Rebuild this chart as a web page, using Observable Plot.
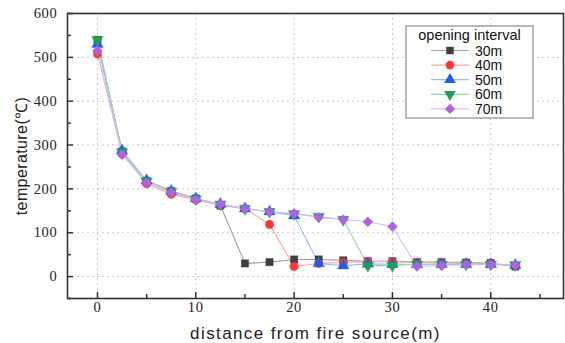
<!DOCTYPE html>
<html>
<head>
<meta charset="utf-8">
<script src="https://cdn.jsdelivr.net/npm/d3@7"></script>
<script src="https://cdn.jsdelivr.net/npm/@observablehq/plot@0.6"></script>
<style>
  html, body { margin: 0; padding: 0; background: #fff; }
  #wrap { position: relative; width: 565px; height: 343px; }
  #legend { position: absolute; left: 405px; top: 25px; }
</style>
</head>
<body>
<div id="wrap"></div>
<script>
const distances = [0, 2.5, 5, 7.5, 10, 12.5, 15, 17.5, 20, 22.5, 25, 27.5, 30, 32.5, 35, 37.5, 40, 42.5];
const seriesNames = ["30m", "40m", "50m", "60m", "70m"];
const t30 = [540, 285, 218, 195, 178, 162, 30, 33, 39, 39, 37, 35, 35, 33, 33, 32, 31, 23];
const t40 = [508, 280, 212, 188, 175, 163, 155, 119, 23, 30, 32, 34, 34, 32, 31, 30, 29, 25];
const t50 = [530, 287, 219, 195, 178, 165, 155, 148, 139, 30, 25, 29, 28, 28, 28, 28, 28, 26];
const t60 = [540, 284, 217, 194, 177, 165, 155, 148, 143, 137, 130, 25, 25, 28, 28, 28, 28, 27];
const t70 = [515, 278, 214, 192, 175, 165, 155, 148, 144, 135, 130, 125, 114, 23, 25, 27, 27, 26];
const seriesValues = [t30, t40, t50, t60, t70];
const colors = ["#3d3d3d", "#ff3636", "#1f5fe8", "#1f9e55", "#b062e2"];
const lineColors = ["#a0a0a0", "#ffa3a3", "#9cbaff", "#96d4ad", "#dcbcf3"];
const xMajor = [0, 10, 20, 30, 40];
const xMinor = [5, 15, 25, 35, 45];
const yMajor = [0, 100, 200, 300, 400, 500, 600];
const yMinor = [-50, 50, 150, 250, 350, 450, 550];
const xTitle = "distance from fire source(m)";
const yTitle = "temperature(\u2103)";
const legendTitle = "opening interval";

const triangleDown = {
  draw(context, size) {
    const y = -Math.sqrt(size / (Math.sqrt(3) * 3));
    context.moveTo(0, -y * 2);
    context.lineTo(Math.sqrt(3) * y, y);
    context.lineTo(-Math.sqrt(3) * y, y);
    context.closePath();
  }
};
const symbols = ["square", "circle", "triangle", triangleDown, "diamond2"];
const radii = [4.2, 4.3, 4.3, 4.3, 4.6];
const d3Symbols = [d3.symbolSquare, d3.symbolCircle, d3.symbolTriangle, triangleDown, d3.symbolDiamond2];

const rows = [];
seriesNames.forEach((s, i) => distances.forEach((d, j) => rows.push({series: s, idx: i, x: d, y: seriesValues[i][j]})));

const lineMarks = seriesNames.map((s, i) =>
  Plot.line(rows.filter(r => r.series === s), {x: "x", y: "y", stroke: lineColors[i], strokeWidth: 1.1}));
const dotMarks = seriesNames.map((s, i) =>
  Plot.dot(rows.filter(r => r.series === s), {x: "x", y: "y", symbol: symbols[i], r: radii[i], fill: colors[i], stroke: colors[i], strokeWidth: 0.5, strokeOpacity: 0.6}));

const chart = Plot.plot({
  width: 565,
  height: 343,
  marginLeft: 67,
  marginRight: 2,
  marginTop: 13,
  marginBottom: 45,
  x: {domain: [-3.05, 47.4]},
  y: {domain: [-50, 600]},
  style: {background: "#fff", color: "#222"},
  marks: [
    Plot.gridX(xMajor, {stroke: "#c8c8c8", strokeOpacity: 1, strokeDasharray: "2,3"}),
    Plot.gridY(yMajor.filter(v => v < 600), {stroke: "#c8c8c8", strokeOpacity: 1, strokeDasharray: "2,3"}),
    ...lineMarks,
    ...dotMarks,
    Plot.axisX(xMajor, {tickSize: -6, tickPadding: 9, label: null, stroke: "#333", strokeWidth: 1.5, ariaLabel: "xticks"}),
    Plot.axisX(xMinor, {tickSize: -4, tickFormat: () => "", label: null, stroke: "#333", strokeWidth: 1.5}),
    Plot.axisY(yMajor, {tickSize: -6, tickPadding: 16, label: null, stroke: "#333", strokeWidth: 1.5, ariaLabel: "yticks"}),
    Plot.axisY(yMinor, {tickSize: -4, tickFormat: () => "", label: null, stroke: "#333", strokeWidth: 1.5}),
    Plot.axisX([], {label: xTitle, labelAnchor: "center", labelArrow: false, labelOffset: 40, tickSize: 0}),
    Plot.axisY([], {label: yTitle, labelAnchor: "center", labelArrow: false, labelOffset: 52, tickSize: 0}),
    Plot.frame({stroke: "#333", strokeWidth: 1.6})
  ]
});
const wrap = document.getElementById("wrap");
wrap.appendChild(chart);

// font styling of axis texts: serif numbers, sans titles
const svgSel = d3.select(chart);
svgSel.selectAll("text").each(function() {
  const t = d3.select(this);
  const txt = t.text();
  if (txt === xTitle) {
    t.style("font-family", "'Liberation Sans', Arial, sans-serif").style("font-size", "17px").style("letter-spacing", "1.4px");
  } else if (txt === yTitle) {
    t.style("font-family", "'Liberation Sans', Arial, sans-serif").style("font-size", "16px").style("letter-spacing", "0.4px");
  } else if (/^-?\d+$/.test(txt)) {
    t.style("font-family", "'Liberation Serif', 'Times New Roman', serif").style("font-size", "14.5px").style("letter-spacing", "0.7px");
  }
});

// legend (inside plot area)
const lw = 127, lh = 92;
const legend = d3.create("svg").attr("id", "legend").attr("width", lw + 2).attr("height", lh + 2)
  .style("font-family", "'Liberation Sans', Arial, sans-serif");
legend.append("rect").attr("x", 1).attr("y", 1).attr("width", lw).attr("height", lh)
  .attr("fill", "#fff").attr("stroke", "#a0a0a0").attr("stroke-width", 1.5);
legend.append("text").attr("x", 1 + lw / 2).attr("y", 14.5).attr("text-anchor", "middle")
  .attr("font-size", 14.5).attr("fill", "#111").text(legendTitle);
seriesNames.forEach((s, i) => {
  const cy = 25.5 + i * 14.6;
  const g = legend.append("g");
  g.append("line").attr("x1", 26).attr("x2", 64).attr("y1", cy).attr("y2", cy).attr("stroke", lineColors[i]).attr("stroke-width", 1.2);
  g.append("path").attr("transform", `translate(45,${cy})`)
    .attr("d", d3.symbol(d3Symbols[i], Math.PI * radii[i] * radii[i])())
    .attr("fill", colors[i]);
  g.append("text").attr("x", 70).attr("y", cy).attr("dy", "0.36em").attr("font-size", 14).attr("fill", "#111").text(s);
});
wrap.appendChild(legend.node());
</script>
</body>
</html>
